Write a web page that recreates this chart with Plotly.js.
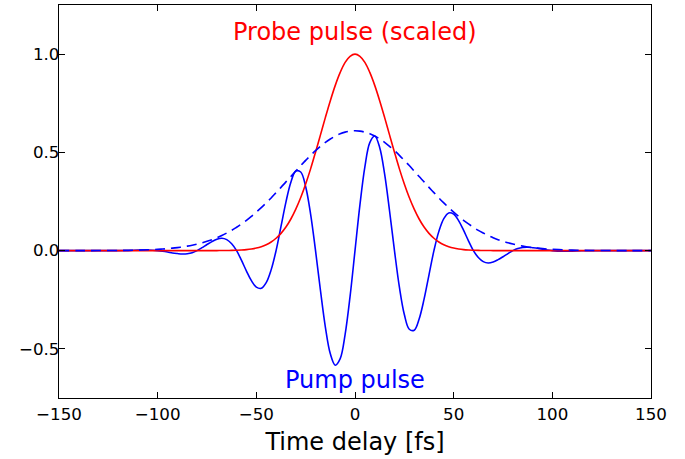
<!DOCTYPE html>
<html>
<head>
<meta charset="utf-8">
<script src="https://cdn.plot.ly/plotly-3.0.1.min.js"></script>
<style>html,body{margin:0;padding:0;background:#fff}#chart{width:685px;height:459px}</style>
</head>
<body>
<div id="chart"></div>
<script>
// Time delay axis (fs)
const timeFs = [-150,-140,-130,-120,-115,-110,-105,
  -100,-97.5,-95,-92.5,-90,-87.5,-85,-82.5,-80,-77.5,-75,-72.5,-70,-67.5,-65,-62.5,-60,-57.5,-55,-52.5,-50,-47.5,-45,-42.5,-40,-37.5,-35,-32.5,-30,-27.5,-25,-22.5,-20,-17.5,-15,-12.5,-10,-7.5,-5,-2.5,0,
  2.5,5,7.5,10,12.5,15,17.5,20,22.5,25,27.5,30,32.5,35,37.5,40,42.5,45,47.5,50,52.5,55,57.5,60,62.5,65,67.5,70,72.5,75,77.5,80,82.5,85,87.5,90,92.5,95,97.5,100,
  105,110,115,120,130,140,150];
// Pump pulse (solid blue)
const pumpPulse = [0,0,0,0,0.001,0.0025,0.003,
  0,-0.003,-0.007,-0.012,-0.015,-0.017,-0.016,-0.011,0,0.015,0.031,0.046,0.058,0.063,0.056,0.035,0,-0.05,-0.104,-0.153,-0.186,-0.192,-0.163,-0.098,0,0.123,0.247,0.348,0.405,0.400,0.325,0.186,0,-0.203,-0.390,-0.525,-0.583,-0.550,-0.426,-0.233,0,
  0.233,0.426,0.550,0.583,0.525,0.390,0.203,0,-0.186,-0.325,-0.400,-0.405,-0.348,-0.247,-0.123,0,0.098,0.163,0.192,0.186,0.153,0.104,0.05,0,-0.035,-0.056,-0.063,-0.058,-0.046,-0.031,-0.015,0,0.011,0.016,0.017,0.015,0.012,0.007,0.003,0,
  -0.003,-0.0025,-0.001,0,0,0,0];
// Pump envelope (dashed blue)
const pumpEnvelope = [0,0,0.0003,0.0009,0.0015,0.0025,0.0041,
  0.0065,0.0081,0.0101,0.0125,0.0154,0.0188,0.0229,0.0276,0.0333,0.0398,0.0473,0.0559,0.0658,0.0769,0.0894,0.103,0.119,0.136,0.154,0.174,0.196,0.219,0.243,0.268,0.295,0.322,0.350,0.377,0.405,0.433,0.459,0.485,0.509,0.531,0.551,0.568,0.583,0.595,0.603,0.608,0.610,
  0.608,0.603,0.595,0.583,0.568,0.551,0.531,0.509,0.485,0.459,0.433,0.405,0.377,0.350,0.322,0.295,0.268,0.243,0.219,0.196,0.174,0.154,0.136,0.119,0.103,0.0894,0.0769,0.0658,0.0559,0.0473,0.0398,0.0333,0.0276,0.0229,0.0188,0.0154,0.0125,0.0101,0.0081,0.0065,
  0.0041,0.0025,0.0015,0.0009,0.0003,0,0];
// Probe pulse (scaled, red)
const probePulse = [0,0,0,0,0,0,0,
  0,0,0,0,0,0,0,0,0,0,0,0.0001,0.0002,0.0004,0.0007,0.0012,0.002,0.0033,0.0053,0.0085,0.0132,0.0202,0.030,0.0439,0.063,0.0878,0.120,0.161,0.211,0.270,0.339,0.416,0.501,0.589,0.678,0.763,0.841,0.907,0.958,0.989,1.0,
  0.989,0.958,0.907,0.841,0.763,0.678,0.589,0.501,0.416,0.339,0.270,0.211,0.161,0.120,0.0878,0.063,0.0439,0.030,0.0202,0.0132,0.0085,0.0053,0.0033,0.002,0.0012,0.0007,0.0004,0.0002,0.0001,0,0,0,0,0,0,0,0,0,0,0,
  0,0,0,0,0,0,0];
const xTicks = [-150,-100,-50,0,50,100,150];
const yTicks = [-0.5,0.0,0.5,1.0];
const labels = {probe: 'Probe pulse (scaled)', pump: 'Pump pulse', xTitle: 'Time delay [fs]'};

const font = 'DejaVu Sans, sans-serif';
const traces = [
  {x: timeFs, y: pumpPulse, mode: 'lines', line: {color: '#0000ff', width: 1.6, shape: 'spline'}, hoverinfo: 'none'},
  {x: timeFs, y: probePulse, mode: 'lines', line: {color: '#ff0000', width: 1.6, shape: 'spline'}, hoverinfo: 'none'},
  {x: timeFs, y: pumpEnvelope, mode: 'lines', line: {color: '#0000ff', width: 1.6, dash: '10px,6px', shape: 'spline'}, hoverinfo: 'none'}
];
const minus = s => s.replace('-', '\u2212');
const axisCommon = {
  showgrid: false, zeroline: false, showline: true, linecolor: '#000', linewidth: 1.2,
  mirror: 'allticks', ticks: 'inside', ticklen: 6, tickwidth: 1, tickcolor: '#000',
  tickfont: {family: font, size: 16.7, color: '#000'}
};
const layout = {
  width: 685, height: 459,
  margin: {l: 59, r: 34, t: 5, b: 61},
  paper_bgcolor: '#fff', plot_bgcolor: '#fff',
  showlegend: false,
  xaxis: Object.assign({}, axisCommon, {range: [-150, 150], tickvals: xTicks, ticktext: xTicks.map(v => minus(String(v))), ticklabelstandoff: 1,
    title: {text: labels.xTitle, font: {family: font, size: 24, color: '#000'}, standoff: 10}}),
  yaxis: Object.assign({}, axisCommon, {range: [-0.75, 1.25], tickvals: yTicks, ticktext: yTicks.map(v => minus(v.toFixed(1))), ticklabelstandoff: -5}),
  annotations: [
    {x: 0, y: 1.114, xref: 'x', yref: 'y', text: labels.probe, showarrow: false, font: {family: font, size: 24, color: '#ff0000'}},
    {x: 0, y: -0.66, xref: 'x', yref: 'y', text: labels.pump, showarrow: false, font: {family: font, size: 24, color: '#0000ff'}}
  ]
};
Plotly.newPlot('chart', traces, layout, {staticPlot: true, displayModeBar: false});
</script>
</body>
</html>
